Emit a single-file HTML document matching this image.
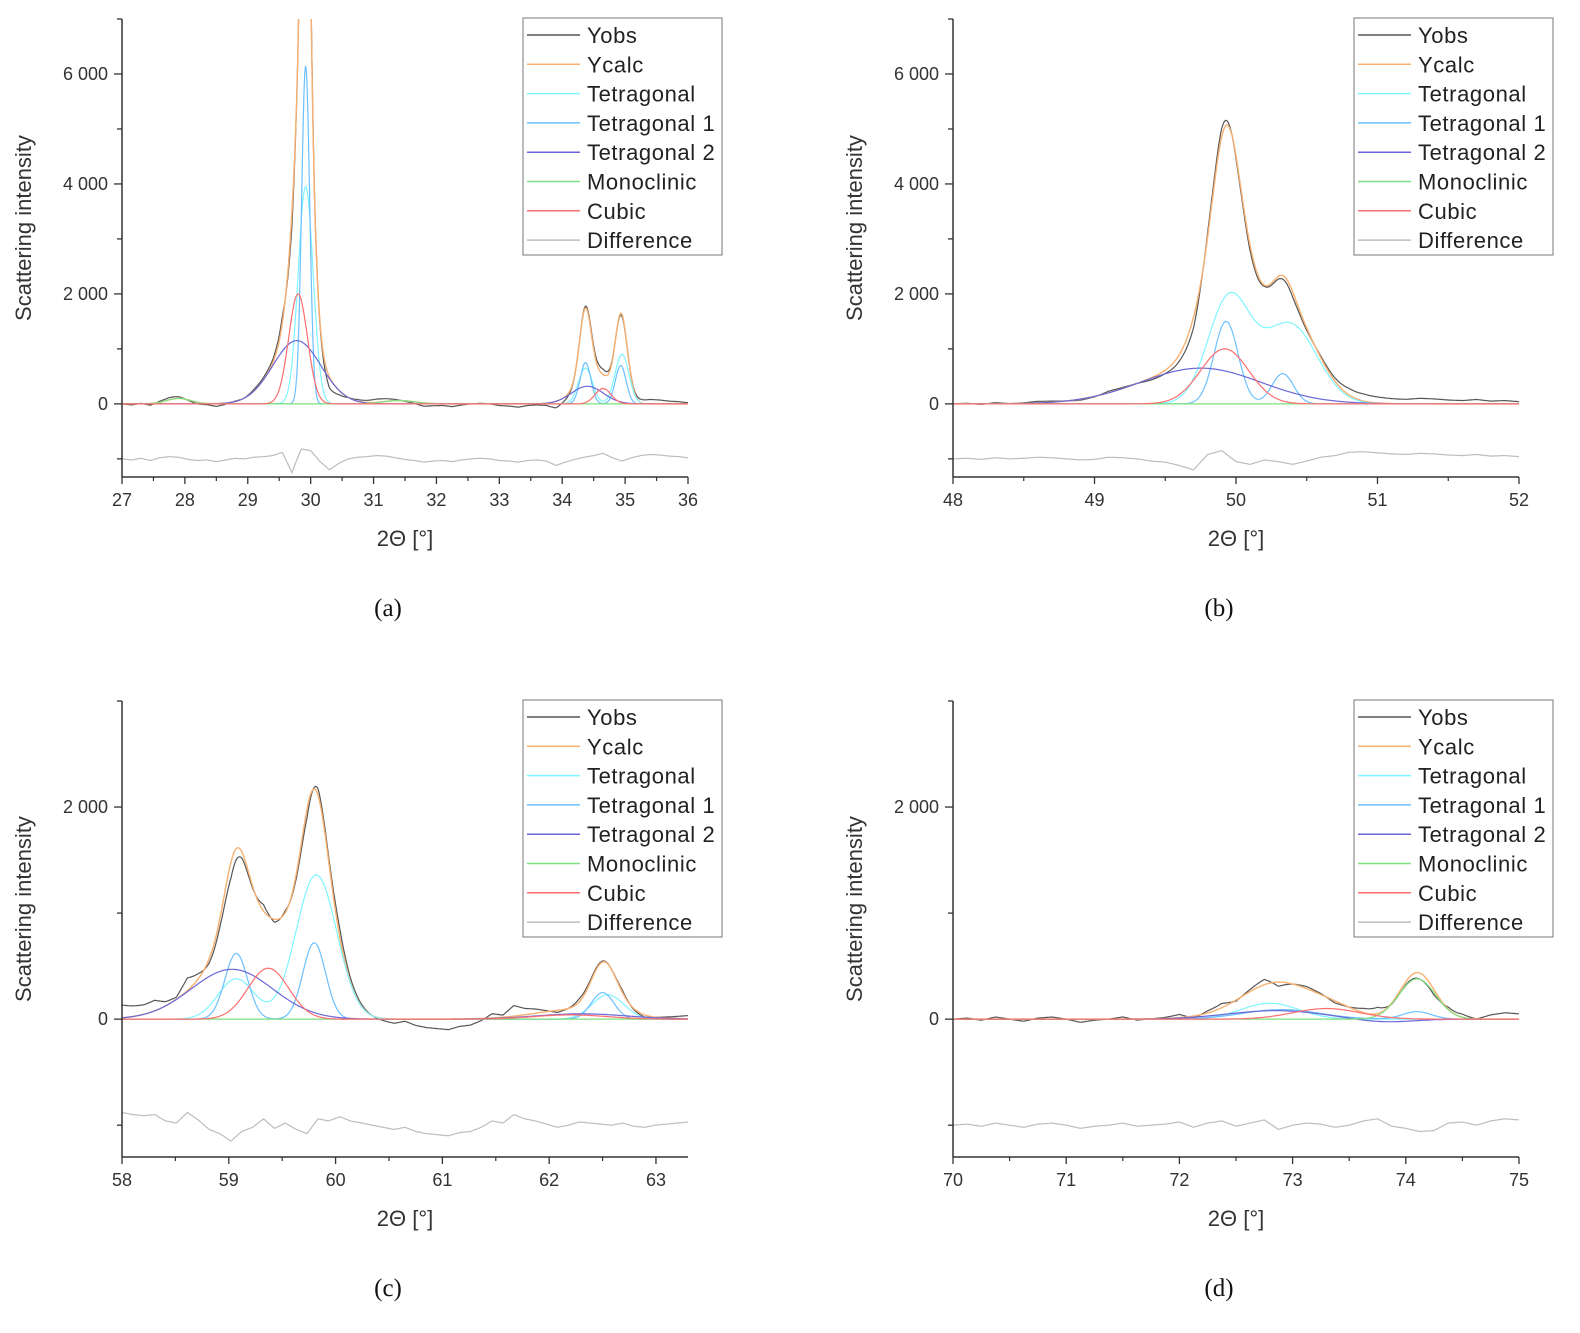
<!DOCTYPE html>
<html><head><meta charset="utf-8"><style>
html,body{margin:0;padding:0;background:#fff;}
svg{display:block;font-family:"Liberation Sans",sans-serif;}
</style></head><body>
<svg id="fig" width="1580" height="1333" viewBox="0 0 1580 1333" xmlns="http://www.w3.org/2000/svg"></svg>
<script>
// ---- data (peak parameters: centers, heights, FWHM in degrees) ----
const seriesNames = ["Yobs","Ycalc","Tetragonal","Tetragonal 1","Tetragonal 2","Monoclinic","Cubic","Difference"];
const seriesColors = ["#555555","#f7b070","#7ff5ff","#6cc0ff","#6a66d8","#7ee07e","#ff6e6e","#bdbdbd"];

// panel a: 27-36
const aTetC=[29.92,34.37,34.95], aTetH=[3950,650,900], aTetW=[0.28,0.26,0.26];
const aT1C=[29.92,34.37,34.93], aT1H=[6150,750,700], aT1W=[0.15,0.2,0.2];
const aT2C=[29.78,34.4], aT2H=[1150,320], aT2W=[0.9,0.6];
const aMonC=[27.9,31.4], aMonH=[100,60], aMonW=[0.45,0.6];
const aCubC=[29.8,34.65], aCubH=[2000,280], aCubW=[0.35,0.3];
const aResid=[0,-20,10,-30,20,40,30,-10,-30,-20,-50,-20,10,0,30,40,60,120,-250,180,150,-50,-200,-80,0,30,40,60,50,20,-10,-30,-60,-40,-30,-50,-20,0,10,0,-30,-40,-60,-30,-20,-40,-120,-60,-10,30,60,100,20,-40,20,60,80,70,50,40,20];

// panel b: 48-52
const bTetC=[49.95,50.38], bTetH=[1900,1450], bTetW=[0.35,0.45];
const bT1C=[49.93,50.33], bT1H=[1500,550], bT1W=[0.2,0.18];
const bT2C=[49.75], bT2H=[650], bT2W=[1.0];
const bMonC=[50], bMonH=[0], bMonW=[1];
const bCubC=[49.92], bCubH=[1000], bCubW=[0.4];
const bResid=[0,10,-10,20,0,10,30,20,0,-20,-10,30,20,0,-40,-60,-120,-200,80,150,-50,-100,-20,-50,-100,-40,30,60,120,130,110,90,80,100,90,70,60,80,50,60,40];

// panel c: 58-63.3
const cTetC=[59.07,59.82,62.55], cTetH=[380,1360,230], cTetW=[0.4,0.45,0.35];
const cT1C=[59.07,59.8,62.5], cT1H=[620,720,250], cT1W=[0.25,0.25,0.25];
const cT2C=[59.03,62.3], cT2H=[470,50], cT2W=[0.9,1.0];
const cMonC=[60], cMonH=[0], cMonW=[1];
const cCubC=[59.37,62.2], cCubH=[480,40], cCubW=[0.45,0.8];
const cResid=[120,100,90,100,40,20,120,50,-40,-80,-150,-60,-20,60,-30,20,-40,-80,60,40,80,40,20,0,-20,-40,-20,-60,-80,-90,-100,-70,-60,-20,40,20,100,60,40,10,-20,0,30,20,10,0,20,-10,-20,0,10,20,30];

// panel d: 70-75
const dTetC=[72.8], dTetH=[150], dTetW=[0.6];
const dT1C=[72.9,74.1], dT1H=[90,70], dT1W=[0.8,0.3];
const dT2C=[72.85,73.8], dT2H=[80,-30], dT2W=[1.0,0.6];
const dMonC=[74.1], dMonH=[380], dMonW=[0.38];
const dCubC=[73.3], dCubH=[100], dCubW=[0.7];
const dResid=[0,10,-10,20,0,-20,10,20,0,-30,-10,0,20,-10,0,10,30,-20,20,40,-10,20,50,-40,0,20,10,-20,0,40,60,-10,-30,-60,-50,20,30,0,40,60,50];

const yTicksAB=[0,2000,4000,6000], yLabelsAB=["0","2 000","4 000","6 000"];
const yTicksCD=[0,2000], yLabelsCD=["0","2 000"];
const xTicksA=[27,28,29,30,31,32,33,34,35,36];
const xTicksB=[48,49,50,51,52];
const xTicksC=[58,59,60,61,62,63];
const xTicksD=[70,71,72,73,74,75];

const NS="http://www.w3.org/2000/svg";
const svg=document.getElementById('fig');
function mk(tag,attrs,parent){const e=document.createElementNS(NS,tag);for(const k in attrs)e.setAttribute(k,attrs[k]);(parent||svg).appendChild(e);return e;}
function peaks(C,H,W,x){let s=0;for(let i=0;i<C.length;i++){const d=(x-C[i])/W[i];s+=H[i]*Math.exp(-2.7726*d*d);}return s;}
function resid(R,x0,x1,x){const t=(x-x0)/(x1-x0)*(R.length-1);const i=Math.max(0,Math.min(R.length-2,Math.floor(t)));const f=t-i;return R[i]*(1-f)+R[i+1]*f;}

function panel(id,L,T,W,H,x0,x1,y0,y1,comps,R,xt,yt,yl,minorX,cap){
  const g=mk('g',{},svg);
  
  
  const X=v=>L+(v-x0)/(x1-x0)*W, Y=v=>T+H-(v-y0)/(y1-y0)*H;
  const cp=mk('clipPath',{id:'clip'+id},g); mk('rect',{x:L,y:T,width:W,height:H},cp);
  const N=700; const xs=[];for(let i=0;i<=N;i++)xs.push(x0+(x1-x0)*i/N);
  const comp=comps.map(c=>xs.map(x=>peaks(c[0],c[1],c[2],x)));
  const calc=xs.map((x,i)=>comp.reduce((s,c)=>s+c[i],0));
  const obs=xs.map((x,i)=>calc[i]+resid(R,x0,x1,x));
  const diff=xs.map((x,i)=>-1000+resid(R,x0,x1,x));
  const line=(vals,col,name,w)=>{const p=mk('path',{d:'M'+xs.map((x,i)=>X(x).toFixed(1)+','+Y(vals[i]).toFixed(1)).join('L'),fill:'none',stroke:col,'stroke-width':w||1.2,'clip-path':'url(#clip'+id+')'},g);
    
    };
  line(diff,seriesColors[7],'difference-line');
  line(obs,seriesColors[0],'yobs-line');
  line(calc,seriesColors[1],'ycalc-line',1.4);
  const cn=['tetragonal-line','tetragonal-1-line','tetragonal-2-line','monoclinic-line','cubic-line'];
  [0,1,2,3,4].forEach(k=>line(comp[k],seriesColors[2+k],cn[k]));
  // axes
  mk('line',{x1:L,y1:T,x2:L,y2:T+H,stroke:'#333','stroke-width':1.5},g);
  mk('line',{x1:L,y1:T+H,x2:L+W,y2:T+H,stroke:'#333','stroke-width':1.5},g);
  for(let v=Math.ceil(y0/1000)*1000;v<=y1;v+=1000){const maj=yt.includes(v);mk('line',{x1:L-(maj?8:5),y1:Y(v),x2:L,y2:Y(v),stroke:'#333','stroke-width':1.3},g);}
  yt.forEach((v,i)=>{const t=mk('text',{x:L-14,y:Y(v)+6,'text-anchor':'end','font-size':18,fill:'#333'},g);t.textContent=yl[i];
    
    });
  xt.forEach(v=>{mk('line',{x1:X(v),y1:T+H,x2:X(v),y2:T+H+7,stroke:'#333','stroke-width':1.3},g);
    const t=mk('text',{x:X(v),y:T+H+29,'text-anchor':'middle','font-size':18,fill:'#333'},g);t.textContent=v;
    
    });
  for(let v=xt[0]+minorX;v<x1;v+=1){mk('line',{x1:X(v),y1:T+H,x2:X(v),y2:T+H+4,stroke:'#333','stroke-width':1.2},g);}
  const yt2=mk('text',{x:0,y:0,transform:`translate(${L-91},${T+H/2-20}) rotate(-90)`,'text-anchor':'middle','font-size':22,fill:'#333'},g);yt2.textContent='Scattering intensity';
  
  
  const xt2=mk('text',{x:L+W/2,y:T+H+69,'text-anchor':'middle','font-size':22,fill:'#333'},g);xt2.textContent='2Θ [°]';
  
  
  const c=mk('text',{x:L+266,y:T+H+139,'text-anchor':'middle','font-size':25,fill:'#111','font-family':'Liberation Serif, serif'},g);c.textContent=cap;
  
  
  // legend
  const lg=mk('g',{},g);
  
  
  const lx=L+401, ly=T-1;
  mk('rect',{x:lx,y:ly,width:199,height:237,fill:'#fff',stroke:'#777','stroke-width':1},lg);
  seriesNames.forEach((n,i)=>{const yy=ly+17+i*29.3;
    mk('line',{x1:lx+4,y1:yy,x2:lx+57,y2:yy,stroke:seriesColors[i],'stroke-width':1.5},lg);
    const t=mk('text',{x:lx+64,y:yy+8,'font-size':22,'letter-spacing':0.6,fill:'#222'},lg);t.textContent=n;
    
    });
}
panel('a',122,19,566,458,27,36,-1330,7000,[[aTetC,aTetH,aTetW],[aT1C,aT1H,aT1W],[aT2C,aT2H,aT2W],[aMonC,aMonH,aMonW],[aCubC,aCubH,aCubW]],aResid,xTicksA,yTicksAB,yLabelsAB,0.5,'(a)');
panel('b',953,19,566,458,48,52,-1330,7000,[[bTetC,bTetH,bTetW],[bT1C,bT1H,bT1W],[bT2C,bT2H,bT2W],[bMonC,bMonH,bMonW],[bCubC,bCubH,bCubW]],bResid,xTicksB,yTicksAB,yLabelsAB,0.5,'(b)');
panel('c',122,701,566,456,58,63.3,-1300,3000,[[cTetC,cTetH,cTetW],[cT1C,cT1H,cT1W],[cT2C,cT2H,cT2W],[cMonC,cMonH,cMonW],[cCubC,cCubH,cCubW]],cResid,xTicksC,yTicksCD,yLabelsCD,0.5,'(c)');
panel('d',953,701,566,456,70,75,-1300,3000,[[dTetC,dTetH,dTetW],[dT1C,dT1H,dT1W],[dT2C,dT2H,dT2W],[dMonC,dMonH,dMonW],[dCubC,dCubH,dCubW]],dResid,xTicksD,yTicksCD,yLabelsCD,0.5,'(d)');
</script>
</body></html>
